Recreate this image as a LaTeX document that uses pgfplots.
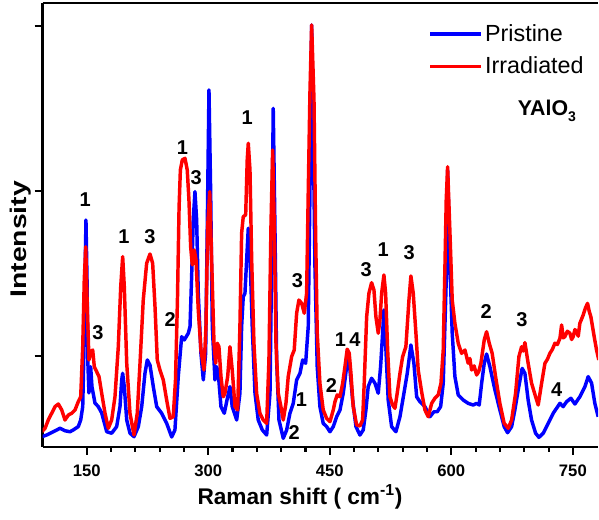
\documentclass[border=0pt]{standalone}
\usepackage{pgfplots}
\pgfplotsset{compat=1.18}
\usepackage{fontspec}
\setmainfont{Liberation Sans}

\tikzset{lbl/.style={font=\bfseries\fontsize{15}{15}\selectfont, inner sep=0pt}}

% Raman spectra of YAlO3, pristine and irradiated (counts vs. Raman shift in cm^-1)
\pgfplotstableread{
x y
94.5 511
100.6 521
108.8 541
117.1 562
123.2 547
129.4 541
133.5 552
139.6 572
142.6 612
145.1 693
146.7 1056
147.9 1461
149.1 1824
150.4 1461
151.6 935
152.8 776
154.9 935
156.5 814
160.2 715
164.3 693
168.5 655
174.7 541
180.8 532
187.0 572
191.1 693
193.2 855
194.4 895
196.4 814
199.4 612
203.4 532
208.4 511
213.7 572
217.9 693
221.9 895
224.8 976
228.1 945
232.2 814
236.4 693
242.5 653
248.7 592
254.9 509
258.9 552
263.0 875
267.2 1117
270.4 1097
275.4 1138
277.5 1178
279.5 1481
281.5 1824
283.6 1996
285.7 1824
287.7 1380
291.0 1016
293.9 855
296.8 1016
298.8 1784
300.9 2612
303.0 1986
305.0 1178
308.3 855
310.4 935
312.4 895
315.7 693
319.8 653
324.0 753
326.8 814
329.6 693
335.1 612
339.1 774
341.2 1178
343.2 1359
345.3 1380
347.4 1582
349.4 1774
351.5 1622
354.3 1178
357.7 774
361.7 612
366.7 552
372.1 521
376.2 774
378.3 1582
380.2 2501
382.3 1784
384.4 976
387.3 612
392.6 501
396.8 552
400.8 653
404.9 713
409.1 855
413.2 895
416.5 976
420.2 956
423.4 1178
425.5 1986
427.6 3006
429.6 2352
431.7 1541
434.5 935
437.8 693
441.9 592
446.1 572
450.2 541
454.3 572
458.5 632
462.6 673
466.6 774
470.8 935
472.8 976
474.9 915
478.2 733
482.3 572
487.2 521
491.3 552
494.6 673
497.4 814
501.6 865
505.7 835
509.8 774
512.7 935
515.2 1138
516.8 1279
519.3 1036
522.1 733
526.3 572
531.6 541
536.6 632
541.5 774
545.6 895
550.1 1067
553.8 956
557.2 753
561.2 723
567.4 693
573.6 632
578.5 662
582.6 662
586.8 693
590.0 835
594.2 1541
595.4 2127
598.3 1541
601.1 1138
604.4 875
608.5 764
614.7 733
620.8 713
627.0 703
631.2 713
634.4 703
637.4 835
640.6 956
643.5 1012
647.6 935
653.8 794
659.9 673
665.2 572
669.4 535
674.4 572
678.4 673
682.5 794
687.4 925
690.8 895
694.8 733
699.0 612
704.0 532
708.1 507
713.4 532
719.5 592
725.7 653
734.0 713
738.0 693
742.2 723
747.5 744
752.5 709
758.6 753
764.8 814
768.9 875
773.1 835
777.1 713
781.2 632
}\pristine

\pgfplotstableread{
x y
94.5 541
98.6 562
102.6 612
106.8 653
110.9 693
115.0 709
119.2 673
123.2 612
127.3 642
131.5 653
135.6 673
139.6 723
142.6 753
145.1 1056
147.0 1461
148.8 1662
150.7 1299
152.8 976
154.9 1026
157.4 1036
159.4 935
162.3 905
165.2 875
168.5 774
172.6 653
176.7 562
180.8 612
184.9 753
189.0 1056
192.0 1420
194.4 1602
196.4 1420
199.4 956
203.4 653
208.4 521
212.4 653
215.8 956
219.8 1339
224.0 1562
228.1 1618
231.4 1562
234.3 1299
237.1 976
240.4 915
244.5 855
248.7 733
252.8 622
256.8 632
259.6 855
262.0 1339
264.0 1900
265.6 2127
268.0 2188
271.3 2198
274.1 2127
276.2 1945
278.3 1662
280.3 1552
282.8 1642
284.9 1582
287.7 1279
291.0 1036
294.7 915
297.2 1178
299.3 1784
301.8 1996
304.2 1582
307.1 1077
309.2 956
311.1 1077
313.2 1056
315.7 875
318.5 753
320.6 774
324.0 875
326.8 1056
329.6 915
333.0 693
336.3 673
339.1 1178
341.2 1744
343.2 1844
346.2 1855
348.1 2188
349.4 2289
351.5 2127
353.6 1582
356.4 1077
359.7 774
363.8 653
367.9 612
372.1 592
374.9 976
377.4 1784
379.5 2248
381.5 1784
383.6 1077
386.4 774
389.7 693
392.6 612
395.9 713
398.7 875
402.9 996
406.1 1036
409.1 1259
411.9 1339
415.3 1319
418.5 1259
421.4 1380
423.4 1986
425.5 2592
427.6 3006
430.5 2552
432.5 1744
434.5 1138
437.8 835
441.9 673
446.1 622
450.2 602
454.3 673
456.4 723
459.2 764
462.6 753
465.9 835
468.7 935
471.5 1041
474.0 1016
476.1 895
478.9 693
483.1 582
487.2 576
490.5 612
492.5 835
495.5 1238
498.3 1380
501.6 1444
504.5 1400
506.9 1238
509.8 1138
511.9 1218
514.0 1380
516.8 1491
518.9 1380
521.4 1036
524.2 753
527.5 703
530.4 683
533.2 774
536.6 895
539.9 996
543.9 1056
547.7 1339
550.1 1485
553.0 1380
556.3 1138
559.1 915
563.3 784
567.4 673
571.5 632
575.7 713
579.7 744
583.8 764
587.2 835
590.0 1036
592.1 1541
593.7 1945
595.4 2147
598.3 1744
601.1 1339
604.4 1198
608.5 1077
612.7 1016
616.8 1036
620.8 956
622.9 985
625.0 915
628.1 940
631.2 885
633.8 905
636.5 956
640.6 1097
643.5 1147
646.8 1077
650.4 1016
654.6 875
659.9 713
665.2 592
670.2 562
674.4 612
679.3 774
683.4 996
686.7 1056
688.7 1030
690.8 1081
694.8 956
699.0 835
704.0 753
707.2 703
711.4 835
715.5 956
718.6 980
721.6 1016
724.7 1040
727.8 1077
730.9 1070
734.0 1107
736.1 1188
738.1 1110
740.1 1117
743.2 1150
746.3 1138
748.4 1100
750.4 1117
752.5 1160
754.6 1147
756.6 1120
758.6 1198
762.7 1248
765.4 1290
768.1 1319
770.2 1270
772.2 1238
776.3 1117
779.2 1036
782.0 976
}\irradiated

\begin{document}
\begin{tikzpicture}
\begin{axis}[
  at={(0,0)}, anchor=south west,
  scale only axis, width=416.6pt, height=333pt,
  xmin=95.5, xmax=781, ymin=448.5, ymax=3139,
  axis x line*=box, axis y line*=left,
  axis line style={line width=2.2pt, black},
  tick pos=left, tick align=outside,
  xtick={150,300,450,600,750}, minor x tick num=4,
  ytick={1000,2000,3000}, yticklabels={},
  major tick length=6pt, minor tick length=3.5pt,
  every tick/.style={black, line width=1.6pt},
  /pgf/number format/assume math mode=true,
  xticklabel style={font=\bfseries\fontsize{12.5}{14}\selectfont, yshift=-4pt},
  xlabel={Raman shift ( cm\textsuperscript{-1})},
  xlabel style={at={(axis description cs:0.4635,-0.1126)}, anchor=center,
    font=\bfseries\fontsize{17}{20}\selectfont},
  ylabel={\scalebox{1.25}[1]{Intensity}},
  ylabel style={at={(axis description cs:-0.040,0.468)}, anchor=center,
    font=\bfseries\fontsize{17}{20}\selectfont},
  legend style={draw=none, fill=none, at={(axis description cs:0.694,0.958)},
    anchor=north west, font=\fontsize{17.5}{20}\selectfont, row sep=6pt, inner sep=0pt},
  legend cell align=left,
  legend image code/.code={\draw[#1] (0pt,0pt) -- (38pt,0pt);},
  every axis plot/.append style={line width=2.6pt, line join=round},
]
\addplot[blue] table[x=x, y=y] {\pristine};
\addlegendentry{Pristine}
\addplot[red] table[x=x, y=y] {\irradiated};
\addlegendentry{Irradiated}

% mode assignments
\node[lbl] at (axis cs:148,1945) {1};
\node[lbl] at (axis cs:164,1139) {3};
\node[lbl] at (axis cs:196,1721) {1};
\node[lbl] at (axis cs:228,1721) {3};
\node[lbl] at (axis cs:253,1218) {2};
\node[lbl] at (axis cs:268,2260) {1};
\node[lbl] at (axis cs:285,2079) {3};
\node[lbl] at (axis cs:348,2442) {1};
\node[lbl] at (axis cs:410,1455) {3};
\node[lbl] at (axis cs:415,733) {1};
\node[lbl] at (axis cs:406,539) {2};
\node[lbl] at (axis cs:452,824) {2};
\node[lbl] at (axis cs:463,1097) {1};
\node[lbl] at (axis cs:481,1097) {4};
\node[lbl] at (axis cs:495,1521) {3};
\node[lbl] at (axis cs:516,1643) {1};
\node[lbl] at (axis cs:548,1624) {3};
\node[lbl] at (axis cs:643,1267) {2};
\node[lbl] at (axis cs:687,1218) {3};
\node[lbl] at (axis cs:730,794) {4};

\node[font=\bfseries\fontsize{16}{16}\selectfont, inner sep=0pt]
  at (axis description cs:0.908,0.757) {YAlO\raisebox{-0.5ex}{\fontsize{10.5}{10.5}\selectfont 3}};
\end{axis}
\pgfresetboundingbox
\useasboundingbox (-31.9pt,-54.75pt) rectangle (417.35pt,335.25pt);
\end{tikzpicture}
\end{document}
